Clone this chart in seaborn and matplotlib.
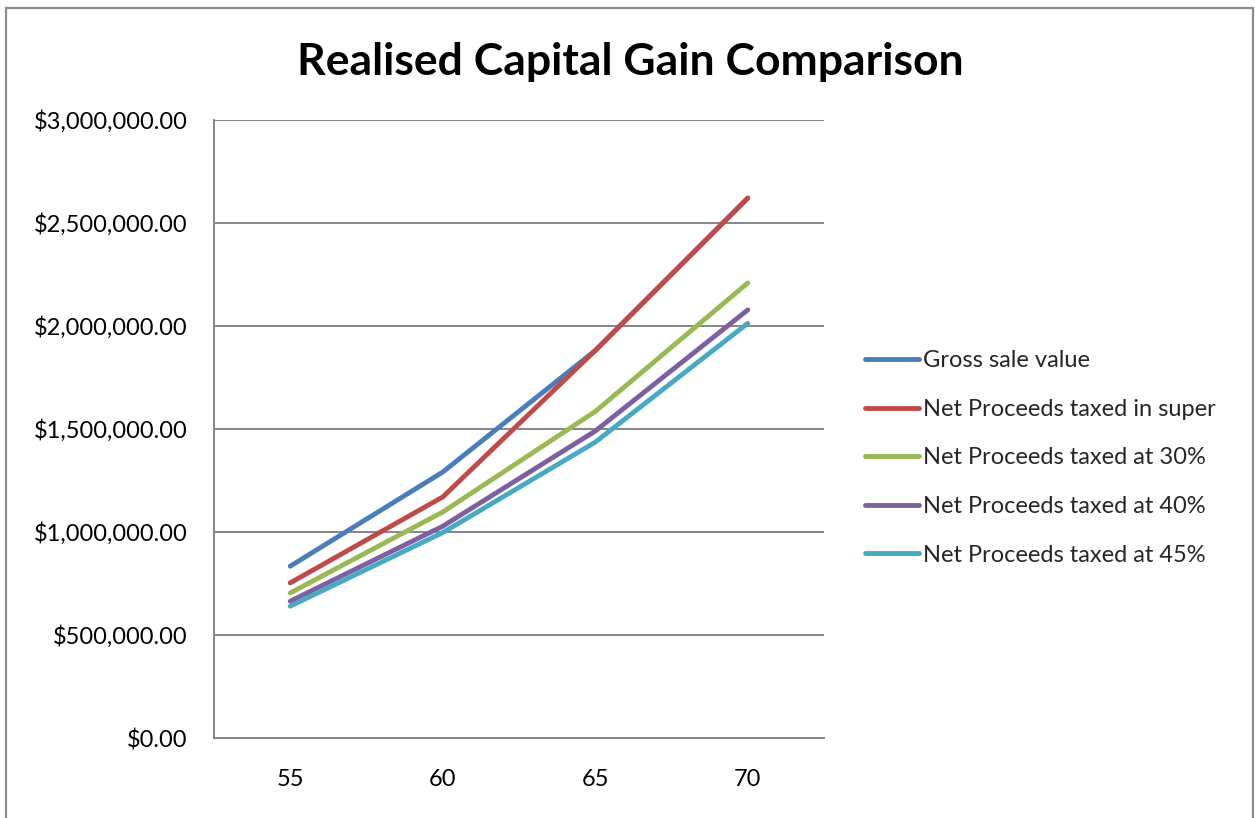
import matplotlib
matplotlib.use("Agg")
import matplotlib.pyplot as plt
import matplotlib.patches as mpatches
from matplotlib.ticker import FuncFormatter
import seaborn as sns
import pandas as pd

ages = [55, 60, 65, 70]
gross = [834000, 1291000, 1881000, 2621000]
net_super = [753000, 1170000, 1881000, 2621000]
net_30 = [704000, 1097000, 1585000, 2209000]
net_40 = [664000, 1028000, 1490000, 2078000]
net_45 = [640000, 997000, 1436000, 2013000]
series_names = ["Gross sale value", "Net Proceeds taxed in super",
                "Net Proceeds taxed at 30%", "Net Proceeds taxed at 40%",
                "Net Proceeds taxed at 45%"]
colors = ["#4A7EBB", "#BE4B48", "#98B954", "#7D60A0", "#46AAC5"]
y_ticks = [0, 500000, 1000000, 1500000, 2000000, 2500000, 3000000]

rows = []
for name, vals in zip(series_names, [gross, net_super, net_30, net_40, net_45]):
    for a, v in zip(ages, vals):
        rows.append({"Age": a, "Value": v, "Series": name})
df = pd.DataFrame(rows)

sns.set_theme(style="white")
plt.rcParams['font.family'] = ['Lato', 'DejaVu Sans']

fig = plt.figure(figsize=(12.55, 8.18), dpi=100)
ax = fig.add_axes([214/1255, 1-738/818, (824-214)/1255, (738-120)/818])

sns.lineplot(data=df, x="Age", y="Value", hue="Series", hue_order=series_names,
             palette=colors, linewidth=3.5, ax=ax, legend=True,
             solid_capstyle="round", solid_joinstyle="round")

ax.set_xlim(52.5, 72.5)
ax.set_ylim(0, 3000000)
ax.set_xticks(ages)
ax.set_xticklabels([str(a) for a in ages])
ax.set_yticks(y_ticks)
ax.yaxis.set_major_formatter(FuncFormatter(lambda v, p: "${:,.2f}".format(v)))
ax.set_xlabel("")
ax.set_ylabel("")
ax.grid(axis="y", color="#868686", linewidth=1.4)
ax.grid(axis="x", visible=False)
for s in ["top", "right"]:
    ax.spines[s].set_visible(False)
for s in ["left", "bottom"]:
    ax.spines[s].set_color("#868686")
    ax.spines[s].set_linewidth(1.4)
ax.tick_params(axis="y", length=0, pad=19, labelsize=17, labelcolor="black")
ax.tick_params(axis="x", length=0, pad=22, labelsize=17, labelcolor="black")

handles, labels = ax.get_legend_handles_labels()
ax.legend_.remove()
for h in handles:
    h.set_linewidth(3.5)
    h.set_solid_capstyle("round")
fig.legend(handles, labels, loc="center left", bbox_to_anchor=(865/1255, 1-458/818),
           frameon=False, fontsize=17, handlelength=2.3, handletextpad=0.15,
           labelspacing=1.17, borderpad=0, borderaxespad=0)

fig.text(630/1255, 1-62/818, "Realised Capital Gain Comparison", ha="center", va="center",
         fontsize=32, fontweight="bold", color="black")

frame = mpatches.Rectangle((6/1255, -0.05), 1247/1255, 1.05 - 8/818, transform=fig.transFigure,
                           fill=False, edgecolor="#8C8C8C", linewidth=1.6)
fig.patches.append(frame)

fig.savefig("out.png", dpi=100)
